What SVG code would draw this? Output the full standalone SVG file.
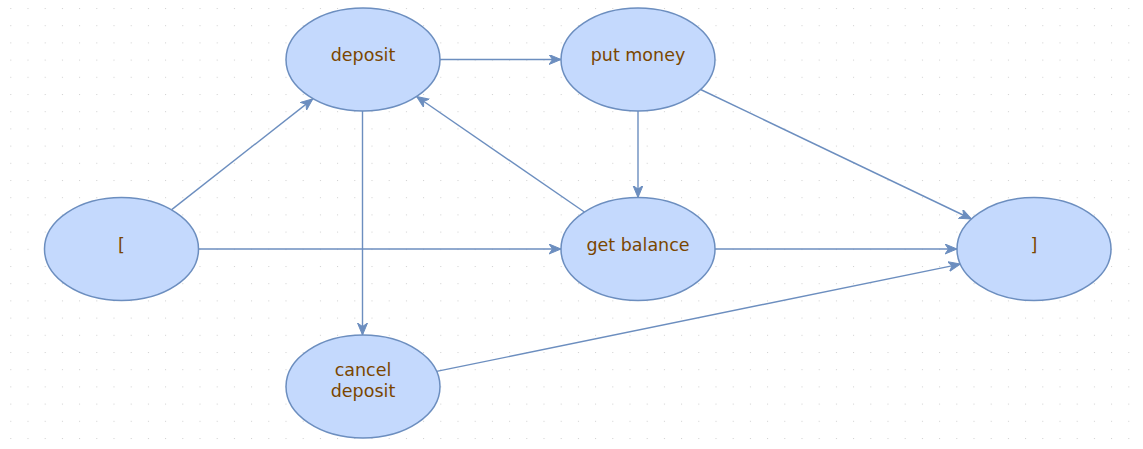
<svg xmlns="http://www.w3.org/2000/svg" width="1143" height="449" viewBox="0 0 1143 449">
<defs>
<pattern id="grid" x="10.3" y="8" width="17.2" height="17.2" patternUnits="userSpaceOnUse">
<rect x="0" y="0" width="1" height="1" fill="#cfcfcf"/>
</pattern>
<marker id="arr" markerUnits="userSpaceOnUse" markerWidth="14" markerHeight="12" refX="12" refY="5" orient="auto">
<path d="M0,0 L12,5 L0,10 L3.5,5 z" fill="#6c8ebf" stroke="#6c8ebf" stroke-width="1"/>
</marker>
</defs>
<style>
.node ellipse{fill:#c4d9fd;stroke:#6c8ebf;stroke-width:1.5}
.node text{font-family:"DejaVu Sans",sans-serif;font-size:17.5px;fill:#7a4600;text-anchor:middle}
.edge{fill:none;stroke:#6c8ebf;stroke-width:1.4;marker-end:url(#arr)}
</style>
<rect width="1143" height="449" fill="#ffffff"/>
<rect width="1143" height="449" fill="url(#grid)"/>
<g id="connectors">
<line class="edge" x1="171.7" y1="209.6" x2="312.8" y2="98.9"/>
<line class="edge" x1="440" y1="59.5" x2="561" y2="59.5"/>
<line class="edge" x1="362.5" y1="111" x2="362.5" y2="335"/>
<line class="edge" x1="199" y1="249" x2="561" y2="249"/>
<line class="edge" x1="584.4" y1="212" x2="416.6" y2="96.5"/>
<line class="edge" x1="638" y1="111" x2="638" y2="197.5"/>
<line class="edge" x1="700.6" y1="89.5" x2="971.4" y2="219"/>
<line class="edge" x1="715" y1="249" x2="957" y2="249"/>
<line class="edge" x1="436.6" y1="371.4" x2="960.4" y2="264.1"/>
</g>
<g id="node-open" class="node">
<ellipse cx="121.5" cy="249" rx="77" ry="51.5"/>
<text x="121.5" y="251">[</text>
</g>
<g id="node-deposit" class="node">
<ellipse cx="363" cy="59.5" rx="77" ry="51.5"/>
<text x="363" y="61">deposit</text>
</g>
<g id="node-put-money" class="node">
<ellipse cx="638" cy="59.5" rx="77" ry="51.5"/>
<text x="638" y="61">put money</text>
</g>
<g id="node-get-balance" class="node">
<ellipse cx="638" cy="249" rx="77" ry="51.5"/>
<text x="638" y="250.5">get balance</text>
</g>
<g id="node-close" class="node">
<ellipse cx="1034" cy="249" rx="77" ry="51.5"/>
<text x="1034" y="251">]</text>
</g>
<g id="node-cancel-deposit" class="node">
<ellipse cx="363" cy="386.5" rx="77" ry="51.5"/>
<text x="363" y="376">cancel</text>
<text x="363" y="397">deposit</text>
</g>
</svg>
